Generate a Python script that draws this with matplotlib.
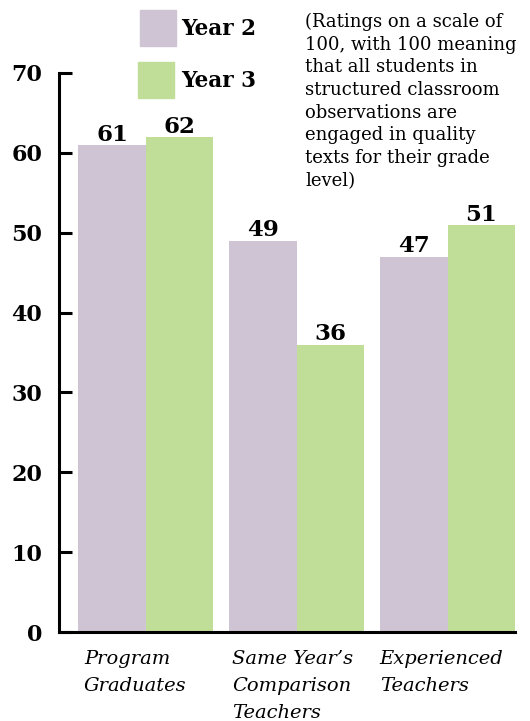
import numpy as np
import matplotlib
matplotlib.use("Agg")
import matplotlib.pyplot as plt
import matplotlib.transforms as mtransforms

plt.rcParams['font.family'] = ['DejaVu Serif']

categories = ["Program\nGraduates", "Same Year\u2019s\nComparison\nTeachers", "Experienced\nTeachers"]
year2 = [61, 49, 47]
year3 = [62, 36, 51]
series_names = ["Year 2", "Year 3"]
yticks = [0, 10, 20, 30, 40, 50, 60, 70]
note = ("(Ratings on a scale of\n100, with 100 meaning\nthat all students in\n"
        "structured classroom\nobservations are\nengaged in quality\n"
        "texts for their grade\nlevel)")

c_purple = "#cfc4d3"
c_green = "#c0de98"

fig = plt.figure(figsize=(5.30, 7.21), dpi=100)
ax = fig.add_axes([0.1113, 0.1234, 0.8604, 0.7754])

x = np.arange(len(categories))
w = 0.447
b2 = ax.bar(x - w / 2, year2, width=w, color=c_purple)
b3 = ax.bar(x + w / 2, year3, width=w, color=c_green)

for bars, vals in ((b2, year2), (b3, year3)):
    for rect, v in zip(bars, vals):
        ax.text(rect.get_x() + rect.get_width() / 2, v - 0.1, str(v),
                ha='center', va='bottom', fontsize=16.5, fontweight='bold')

ax.set_xlim(-0.576, 2.447)
ax.set_ylim(0, 70)
ax.set_yticks(yticks)
ax.set_yticklabels([str(t) for t in yticks], fontsize=16, fontweight='bold')
ax.tick_params(axis='y', direction='in', length=9, width=2.2, pad=12)
ax.set_xticks([])
for s in ('top', 'right'):
    ax.spines[s].set_visible(False)
ax.spines['left'].set_linewidth(2.2)
ax.spines['bottom'].set_linewidth(2.2)

# category labels under the groups
trans = mtransforms.blended_transform_factory(ax.transData, fig.transFigure)
offs = [-0.41, -0.43, -0.45]
for xi, lab, o in zip(x, categories, offs):
    fig.text(xi + o, 1 - 650 / 721, lab, transform=trans, ha='left', va='top',
             fontsize=14, style='italic', linespacing=1.65)

# legend drawn by hand
fw, fh = 530, 721
for (x0, y0), col, name in zip([(140, 10), (138, 62)], [c_purple, c_green], series_names):
    fig.patches.append(plt.Rectangle((x0 / fw, 1 - (y0 + 36) / fh), 36 / fw, 36 / fh,
                                     transform=fig.transFigure, color=col))
    fig.text(181 / fw, 1 - (y0 + 19) / fh, name, ha='left', va='center',
             fontsize=15.5, fontweight='bold')

fig.text(305 / fw, 1 - 13 / fh, note, ha='left', va='top', fontsize=13, linespacing=1.33)

fig.savefig("out.png", dpi=100)
